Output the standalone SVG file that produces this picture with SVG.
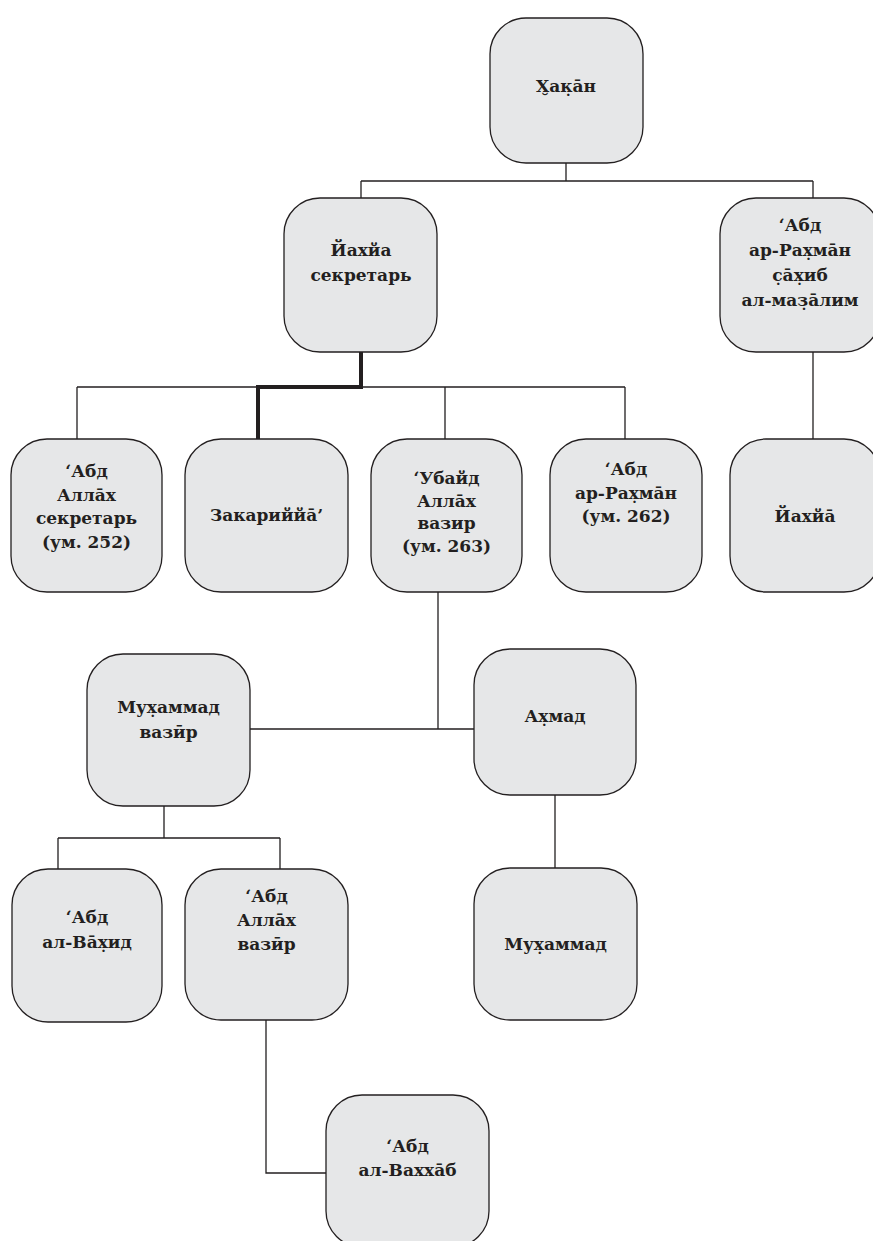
<svg xmlns="http://www.w3.org/2000/svg" width="873" height="1241" viewBox="0 0 873 1241">
<style>
.box{fill:#e6e7e8;stroke:#231f20;stroke-width:1.3}
.t{font-family:"DejaVu Serif","Liberation Serif",serif;font-weight:bold;font-size:17px;fill:#231f20;text-anchor:middle}
.c{fill:none;stroke:#231f20;stroke-width:1.3}
.thick{fill:none;stroke:#231f20;stroke-width:4}
</style>
<rect width="873" height="1241" fill="#ffffff"/>
<g id="connectors">
<path class="c" d="M566 163V181M361 181H813M361 181V198M813 181V198"/>
<path class="c" d="M813 352V439"/>
<path class="c" d="M77 387H625M77 387V439M445 387V439M625 387V439"/>
<path class="thick" d="M361 352V387H258V439"/>
<path class="c" d="M438 592V729M250 729H475"/>
<path class="c" d="M555 795V868"/>
<path class="c" d="M164 806V838M58 838H280M58 838V869M280 838V869"/>
<path class="c" d="M266 1020V1173H326"/>
</g>
<g id="n-haqan">
<rect class="box" x="490" y="18" width="153" height="145" rx="36"/>
<text class="t" x="566" y="92">Х̮ак̣а̄н</text>
</g>
<g id="n-yahya-sekretar">
<rect class="box" x="284" y="198" width="153" height="154" rx="36"/>
<text class="t" x="361" y="256">Йахйа</text>
<text class="t" x="361" y="281">секретарь</text>
</g>
<g id="n-abd-ar-rahman-sahib">
<rect class="box" x="720" y="198" width="160" height="154" rx="36"/>
<text class="t" x="800" y="231">‘Абд</text>
<text class="t" x="800" y="256">ар-Рах̣ма̄н</text>
<text class="t" x="800" y="281">с̣а̄х̣иб</text>
<text class="t" x="800" y="306">ал-маз̣а̄лим</text>
</g>
<g id="n-abd-allah-sekretar">
<rect class="box" x="11" y="439" width="151" height="153" rx="36"/>
<text class="t" x="86.5" y="477">‘Абд</text>
<text class="t" x="86.5" y="500.5">Алла̄х</text>
<text class="t" x="86.5" y="524">секретарь</text>
<text class="t" x="86.5" y="547.5">(ум. 252)</text>
</g>
<g id="n-zakariyya">
<rect class="box" x="185" y="439" width="163" height="153" rx="36"/>
<text class="t" x="266.5" y="521">Закариййа̄’</text>
</g>
<g id="n-ubayd-allah">
<rect class="box" x="371" y="439" width="151" height="153" rx="36"/>
<text class="t" x="446.5" y="484">‘Убайд</text>
<text class="t" x="446.5" y="506.5">Алла̄х</text>
<text class="t" x="446.5" y="529">вазир</text>
<text class="t" x="446.5" y="551.5">(ум. 263)</text>
</g>
<g id="n-abd-ar-rahman-262">
<rect class="box" x="550" y="439" width="152" height="153" rx="36"/>
<text class="t" x="626" y="475">‘Абд</text>
<text class="t" x="626" y="498.5">ар-Рах̣ма̄н</text>
<text class="t" x="626" y="522">(ум. 262)</text>
</g>
<g id="n-yahya">
<rect class="box" x="730" y="439" width="150" height="153" rx="36"/>
<text class="t" x="805" y="522">Йахйа̄</text>
</g>
<g id="n-muhammad-vazir">
<rect class="box" x="87" y="654" width="163" height="152" rx="36"/>
<text class="t" x="168.5" y="713">Мух̣аммад</text>
<text class="t" x="168.5" y="738">вазӣр</text>
</g>
<g id="n-ahmad">
<rect class="box" x="474" y="649" width="162" height="146" rx="36"/>
<text class="t" x="555" y="722">Ах̣мад</text>
</g>
<g id="n-abd-al-wahid">
<rect class="box" x="12" y="869" width="150" height="153" rx="36"/>
<text class="t" x="87" y="923">‘Абд</text>
<text class="t" x="87" y="948">ал-Ва̄х̣ид</text>
</g>
<g id="n-abd-allah-vazir">
<rect class="box" x="185" y="869" width="163" height="151" rx="36"/>
<text class="t" x="266.5" y="902">‘Абд</text>
<text class="t" x="266.5" y="926">Алла̄х</text>
<text class="t" x="266.5" y="950">вазӣр</text>
</g>
<g id="n-muhammad">
<rect class="box" x="474" y="868" width="163" height="152" rx="36"/>
<text class="t" x="555.5" y="950">Мух̣аммад</text>
</g>
<g id="n-abd-al-wahhab">
<rect class="box" x="326" y="1095" width="163" height="152" rx="36"/>
<text class="t" x="407.5" y="1152">‘Абд</text>
<text class="t" x="407.5" y="1176">ал-Вахха̄б</text>
</g>
</svg>
